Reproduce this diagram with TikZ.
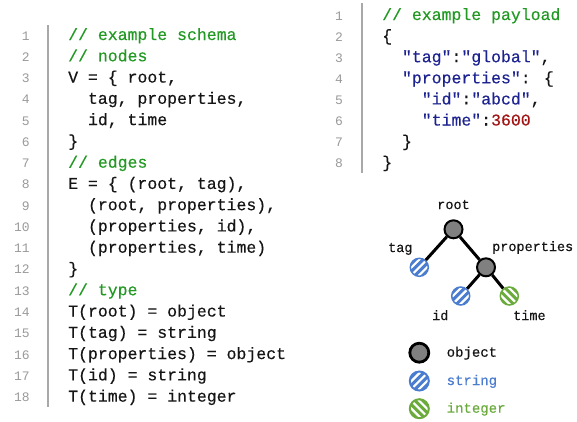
\documentclass[tikz,border=0pt]{standalone}
\usepackage{fontspec}
\newfontfamily\codefont{Liberation Mono}[RawFeature={embolden=0.35}]
\newfontfamily\numfont{Liberation Mono}
\definecolor{cmtgreen}{HTML}{229922}
\definecolor{navy}{HTML}{1C2290}
\definecolor{numred}{HTML}{A31515}
\definecolor{sblue}{HTML}{4A7CCF}
\definecolor{igreen}{HTML}{6AAB3C}
\definecolor{ogray}{HTML}{808080}
\definecolor{lngray}{HTML}{9A9A9A}
\definecolor{bargray}{HTML}{A8A8A8}
\definecolor{ink}{HTML}{151515}
\tikzset{
  codetxt/.style={font={\codefont\fontsize{16.5}{18}\selectfont}, text=ink, inner sep=0, anchor=base west},
  lnum/.style={font={\numfont\fontsize{13}{14}\selectfont}, text=lngray, inner sep=0, anchor=base east},
  gutter/.style={draw=bargray, line width=1.3pt},
  lbl/.style={font={\codefont\fontsize{13.5}{15}\selectfont}, text=ink, inner sep=0},
  leglbl/.style={font={\codefont\fontsize{14}{16}\selectfont}, inner sep=0, anchor=base west},
  objnode/.style={circle, draw=black, fill=ogray, line width=2pt, minimum size=18pt, inner sep=0},
  strnode/.style={circle, draw=sblue, fill=sblue, line width=1.5pt, minimum size=18pt, inner sep=0,
    path picture={\foreach \c in {-7.8,0,7.8}{\draw[white,line width=2.2pt]
      ([shift={(-14,-14+\c)}]path picture bounding box.center) --
      ([shift={(14,14+\c)}]path picture bounding box.center);}}},
  intnode/.style={circle, draw=igreen, fill=igreen, line width=1.5pt, minimum size=18pt, inner sep=0,
    path picture={\foreach \c in {-7.8,0,7.8}{\draw[white,line width=2.2pt]
      ([shift={(-14,14+\c)}]path picture bounding box.center) --
      ([shift={(14,-14+\c)}]path picture bounding box.center);}}},
  edge/.style={draw=black, line width=3pt},
}
\begin{document}
\begin{tikzpicture}[x=1pt,y=1pt]
\useasboundingbox (0,0) rectangle (577,-421);
\fill[white] (0,0) rectangle (577,-421);

% ---------- left code block ----------
\foreach \i in {1,...,18}{
  \node[lnum] (ln\i) at (30,{-40-21.27*(\i-1)}) {\i};
}
\coordinate (lbartop) at (48,-25);
\coordinate (lbarbot) at (48,-407);
\draw[gutter] (lbartop) -- (lbarbot);

\def\ly#1{{-40-21.27*(#1-1)}}
\node[codetxt, text=cmtgreen] (L1) at (68,\ly{1}) {// example schema};
\node[codetxt, text=cmtgreen] (L2) at (68,\ly{2}) {// nodes};
\node[codetxt] (L3) at (68,\ly{3}) {V = \{ root,};
\node[codetxt] (L4) at (87.8,\ly{4}) {tag, properties,};
\node[codetxt] (L5) at (87.8,\ly{5}) {id, time};
\node[codetxt] (L6) at (68,\ly{6}) {\}};
\node[codetxt, text=cmtgreen] (L7) at (68,\ly{7}) {// edges};
\node[codetxt] (L8) at (68,\ly{8}) {E = \{ (root, tag),};
\node[codetxt] (L9) at (87.8,\ly{9}) {(root, properties),};
\node[codetxt] (L10) at (87.8,\ly{10}) {(properties, id),};
\node[codetxt] (L11) at (87.8,\ly{11}) {(properties, time)};
\node[codetxt] (L12) at (68,\ly{12}) {\}};
\node[codetxt, text=cmtgreen] (L13) at (68,\ly{13}) {// type};
\node[codetxt] (L14) at (68,\ly{14}) {T(root) = object};
\node[codetxt] (L15) at (68,\ly{15}) {T(tag) = string};
\node[codetxt] (L16) at (68,\ly{16}) {T(properties) = object};
\node[codetxt] (L17) at (68,\ly{17}) {T(id) = string};
\node[codetxt] (L18) at (68,\ly{18}) {T(time) = integer};

% ---------- right code block ----------
\def\ry#1{{-20-21.1*(#1-1)}}
\foreach \i in {1,...,8}{
  \node[lnum] (rn\i) at (343,{-20-21.1*(\i-1)}) {\i};
}
\coordinate (rbartop) at (362,-3);
\coordinate (rbarbot) at (362,-173);
\draw[gutter] (rbartop) -- (rbarbot);
\node[codetxt, text=cmtgreen] (R1) at (382,\ry{1}) {// example payload};
\node[codetxt] (R2) at (382,\ry{2}) {\{};
\node[codetxt] (R3) at (401.8,\ry{3}) {\textcolor{navy}{"tag"}:\textcolor{navy}{"global"},};
\node[codetxt] (R4) at (401.8,\ry{4}) {\textcolor{navy}{"properties"}: \{};
\node[codetxt] (R5) at (421.6,\ry{5}) {\textcolor{navy}{"id"}:\textcolor{navy}{"abcd"},};
\node[codetxt] (R6) at (421.6,\ry{6}) {\textcolor{navy}{"time"}:\textcolor{numred}{3600}};
\node[codetxt] (R7) at (401.8,\ry{7}) {\}};
\node[codetxt] (R8) at (382,\ry{8}) {\}};

% ---------- tree ----------
\node[objnode] (root) at (453.5,-229.3) {};
\node[strnode] (tag) at (419.3,-267.3) {};
\node[objnode] (props) at (486,-267.3) {};
\node[strnode] (id) at (460.7,-296) {};
\node[intnode] (time) at (509.3,-296) {};
\draw[edge] (root) -- (tag);
\draw[edge] (root) -- (props);
\draw[edge] (props) -- (id);
\draw[edge] (props) -- (time);

\node[lbl, anchor=base] (lroot) at (453.5,-209) {root};
\node[lbl, anchor=base west] (ltag) at (388,-252) {tag};
\node[lbl, anchor=base west] (lprops) at (492,-251) {properties};
\node[lbl, anchor=base west] (lid) at (432,-320) {id};
\node[lbl, anchor=base west] (ltime) at (513,-320) {time};

% ---------- legend ----------
\node[objnode, minimum size=19pt, line width=2.8pt] (kobj) at (419.3,-352.7) {};
\node[strnode, minimum size=19pt, line width=2pt] (kstr) at (419.3,-381) {};
\node[intnode, minimum size=19pt, line width=2pt] (kint) at (419.3,-408.7) {};
\node[leglbl, text=ink] (tobj) at (446.5,-356.7) {object};
\node[leglbl, text=sblue] (tstr) at (446.5,-385) {string};
\node[leglbl, text=igreen] (tint) at (446.5,-412.7) {integer};
\end{tikzpicture}
\end{document}
